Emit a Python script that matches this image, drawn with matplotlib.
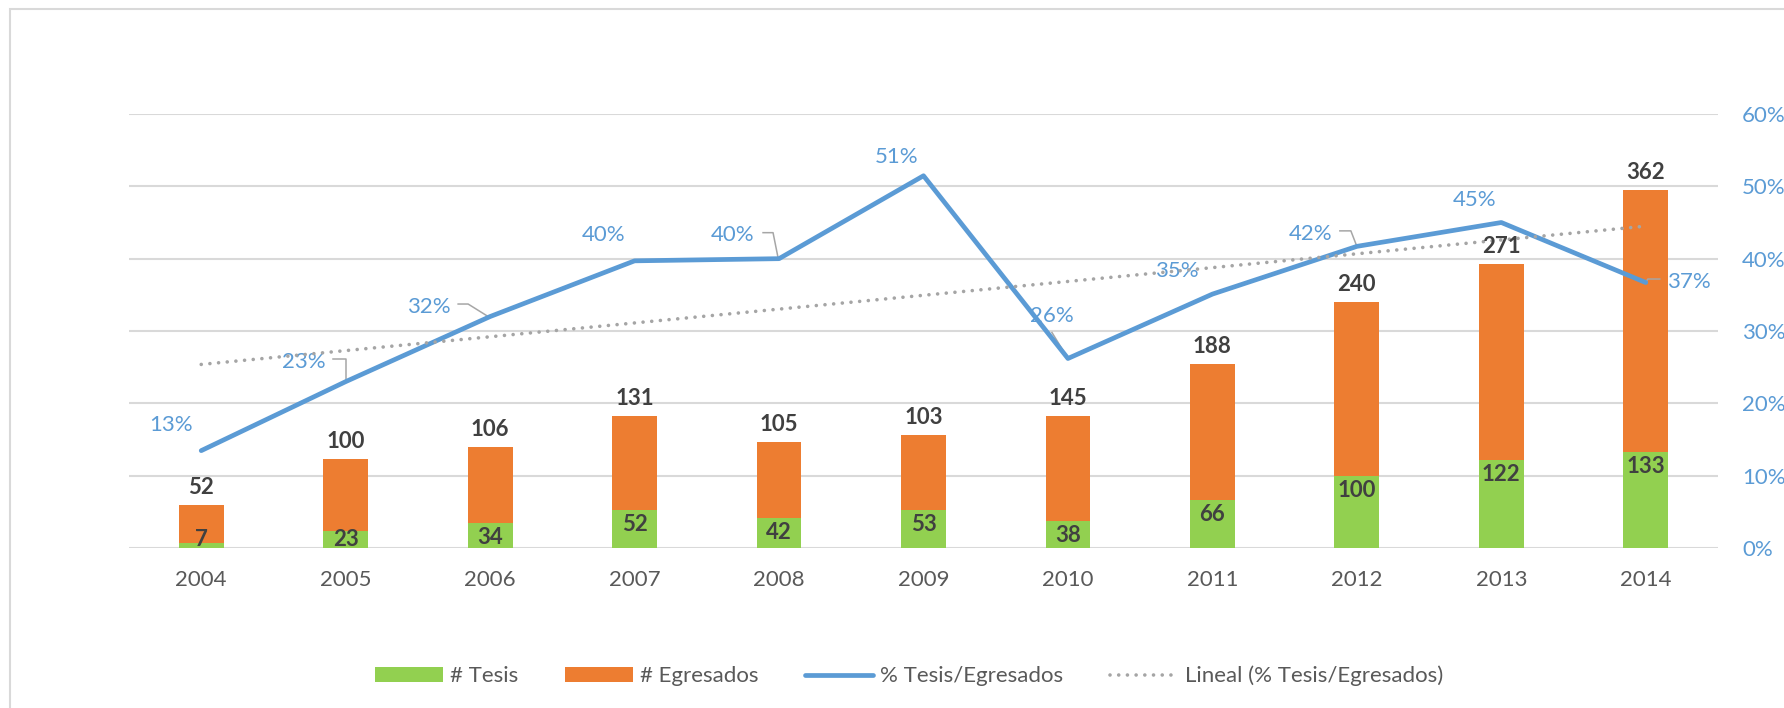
import numpy as np
import matplotlib
matplotlib.use('Agg')
import matplotlib.pyplot as plt
from matplotlib.patches import Rectangle
from matplotlib.ticker import PercentFormatter

plt.rcParams['font.family'] = ['Lato', 'DejaVu Sans']

# ---------------------------------------------------------------
# data
# ---------------------------------------------------------------
years = ['2004', '2005', '2006', '2007', '2008', '2009',
         '2010', '2011', '2012', '2013', '2014']
tesis = [7, 23, 34, 52, 42, 53, 38, 66, 100, 122, 133]
egresados = [52, 100, 106, 131, 105, 103, 145, 188, 240, 271, 362]
pct = [0.1346, 0.23, 0.32, 0.397, 0.40, 0.5146, 0.262, 0.351, 0.417, 0.45, 0.367]

# colours
GREEN = '#92D050'
ORANGE = '#ED7D31'
BLUE = '#5B9BD5'
GRAY_TREND = '#A5A5A5'
GRID = '#D9D9D9'
DARK = '#404040'
TEXT = '#595959'
FS = 16

# hand placed % labels (pixel offsets from the point, y pointing down)
pct_label_offsets = [(-30, -28), (-42, -22), (-61, -12), (-31, -28), (-46, -26),
                     (-27, -21), (-16, -44), (-36, -25), (-46, -14), (-27, -25),
                     (43, -3)]
leader_lines = {
    1: [(-12.5, -23), (0.5, -23), (0.5, -2)],
    2: [(-32, -12.5), (-22, -12.5), (-2, 0)],
    4: [(-16, -26), (-6, -26), (-1, -1)],
    6: [(-16, -26), (0, 0)],
    8: [(-17, -15.5), (-6, -15.5), (0, 0)],
    10: [(0, 0), (2, -3.5), (14, -3.5)],
}

W, H = 1784, 708
fig = plt.figure(figsize=(W / 100, H / 100), dpi=100)
ax = fig.add_axes([129 / W, 1 - 548 / H, (1718 - 129) / W, (548 - 114) / H])

# chart frame (only left/top edges are visible in the picture)
fig.patches.append(Rectangle((10 / W, -0.1), 2, 1 - 9 / H + 0.1, transform=fig.transFigure,
                             fill=False, edgecolor=GRID, lw=1.5))

x = np.arange(len(years))
bw = 0.31
ax.bar(x, tesis, width=bw, color=GREEN, label='# Tesis', zorder=2)
ax.bar(x, egresados, width=bw, bottom=tesis, color=ORANGE, label='# Egresados', zorder=2)

ax.set_xlim(-0.5, len(years) - 0.5)
ax.set_ylim(0, 600)
ax.set_yticks(range(0, 601, 100))
ax.yaxis.grid(True, color=GRID, lw=1.5)
ax.set_axisbelow(True)
ax.set_xticks(x, years)
ax.tick_params(axis='x', length=0, pad=16, labelsize=FS, labelcolor=TEXT)
for s in ax.spines.values():
    s.set_visible(False)

# percentage axis on the right
ax2 = ax.twinx()
ax.tick_params(axis='y', left=False, right=False, labelleft=False, labelright=False)
ax2.set_ylim(0, 0.6)
ax2.set_yticks(np.arange(0, 0.61, 0.1))
ax2.yaxis.set_major_formatter(PercentFormatter(1.0, decimals=0))
ax2.tick_params(axis='y', length=0, pad=17.3, labelsize=FS, labelcolor=BLUE)
for s in ax2.spines.values():
    s.set_visible(False)

ax2.plot(x, pct, color=BLUE, lw=3.4, solid_joinstyle='round', solid_capstyle='round',
         zorder=3, label='% Tesis/Egresados')

# linear trendline, like excel's "Lineal"
coef = np.polyfit(x, pct, 1)
ax2.plot(x, np.polyval(coef, x), color=GRAY_TREND, lw=2.6, linestyle=(0, (0.01, 2.4)),
         dash_capstyle='round', zorder=4, label='Lineal (% Tesis/Egresados)')

# bar labels
for i in range(len(years)):
    total = tesis[i] + egresados[i]
    ax2.annotate(str(egresados[i]), xy=(x[i], total), xycoords=ax.transData,
                 xytext=(0, 7), textcoords='offset pixels', ha='center', va='bottom',
                 fontsize=FS, fontweight='bold', color=DARK, zorder=5)
    if tesis[i] < 30:
        ax2.annotate(str(tesis[i]), xy=(x[i], 0), xycoords=ax.transData,
                     xytext=(0, 2), textcoords='offset pixels', ha='center', va='baseline',
                     fontsize=FS, fontweight='bold', color=DARK, zorder=5)
    else:
        ax2.annotate(str(tesis[i]), xy=(x[i], tesis[i]), xycoords=ax.transData,
                     xytext=(0, -4), textcoords='offset pixels', ha='center', va='top',
                     fontsize=FS, fontweight='bold', color=DARK, zorder=5)

# percentage labels
for i, v in enumerate(pct):
    dx, dy = pct_label_offsets[i]
    ax2.annotate(f'{v:.0%}', xy=(x[i], v), xytext=(dx, -dy - 2), textcoords='offset pixels',
                 ha='center', va='center', fontsize=FS, color=BLUE, zorder=2.5)

# leader lines
for i, verts in leader_lines.items():
    px, py = ax2.transData.transform((x[i], pct[i]))
    disp = np.array([(px + ox, py - oy) for ox, oy in verts])
    data = ax2.transData.inverted().transform(disp)
    ax2.plot(data[:, 0], data[:, 1], color='#A6A6A6', lw=1.1, zorder=2.6)

# legend
h1, l1 = ax.get_legend_handles_labels()
h2, l2 = ax2.get_legend_handles_labels()
fig.legend(h1 + h2, l1 + l2, loc='center', bbox_to_anchor=(909 / W, 1 - 676 / H),
           ncol=4, frameon=False, fontsize=FS, labelcolor=TEXT,
           handlelength=3.06, handleheight=0.63, columnspacing=2.1, handletextpad=0.32,
           borderpad=0)

fig.savefig('out.png', dpi=100)
